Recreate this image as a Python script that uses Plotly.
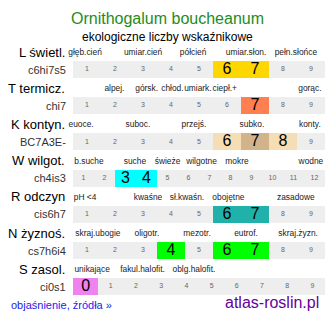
import plotly.graph_objects as go

# ---- data ----
title = "Ornithogalum boucheanum"
subtitle = "ekologiczne liczby wskaźnikowe"
row_names = ["L świetl.", "T termicz.", "K kontyn.", "W wilgot.", "R odczyn", "N żyznoś.", "S zasol."]
row_codes = ["c6hi7s5", "chi7", "BC7A3E-", "ch4is3", "cis6h7", "cs7h6i4", "ci0s1"]
scale_min = [1, 1, 1, 1, 1, 1, 0]
scale_max = [9, 9, 9, 12, 9, 9, 9]
highlight_vals = [[6, 7], [7], [6, 7, 8], [3, 4], [6, 7], [4, 6, 7], [0]]
highlight_cols = [["#FFD700", "#FFD700"], ["#FF7F50"], ["#F5DEB3", "#D2B48C", "#F5DEB3"],
                  ["#00FFFF", "#00FFFF"], ["#20B2AA", "#20B2AA"], ["#00FF00", "#00FF00", "#00FF00"],
                  ["#EE82EE"]]
desc_labels = [
    ["głęb.cień", "umiar.cień", "półcień", "umiar.słon.", "pełn.słońce"],
    ["alpej.", "górsk.", "chłod.", "umiark.", "ciepł.+", "gorąc."],
    ["euoce.", "suboc.", "przejś.", "subko.", "konty."],
    ["b.suche", "suche", "świeże", "wilgotne", "mokre", "wodne"],
    ["pH <4", "kwaśne", "sł.kwaśn.", "obojętne", "zasadowe"],
    ["skraj.ubogie", "oligotr.", "mezotr.", "eutrof.", "skraj.żyzn."],
    ["unikające", "fakul.halofit.", "oblg.halofit."],
]
desc_at = [
    [0.93, 3.0, 4.79, 6.68, 8.46],
    [1.98, 3.13, 4.05, 4.96, 5.92, 8.96],
    [0.79, 2.82, 4.82, 6.89, 8.96],
    [1.26, 3.45, 5.0, 6.62, 8.31, 11.83],
    [0.93, 3.18, 4.57, 6.05, 8.46],
    [1.39, 3.14, 4.93, 6.68, 8.54],
    [0.26, 2.26, 4.3],
]
link_text = "objaśnienie, źródła »"
site_text = "atlas-roslin.pl"

# ---- layout constants ----
W, H = 334, 322
X0, X1 = 73, 325
ROW0, ROWSTEP = 52, 36.2
BAR_OFF, BAR_H = 17.5, 17
FONT = "Liberation Sans, Arial, sans-serif"

fig = go.Figure()

def cell_geom(i):
    n = scale_max[i] - scale_min[i] + 1
    return (X1 - X0) / n

for i in range(len(row_names)):
    ly = ROW0 + ROWSTEP * i
    by = ly + BAR_OFF
    w = cell_geom(i)
    vals = list(range(scale_min[i], scale_max[i] + 1))
    fig.add_trace(go.Bar(orientation="h", y=[by], x=[X1 - X0], base=[X0], width=BAR_H,
                         marker=dict(color="#EEEEEE", line=dict(width=0)),
                         hoverinfo="skip", showlegend=False))
    hv = highlight_vals[i]
    fig.add_trace(go.Bar(orientation="h", y=[by] * len(hv), x=[w] * len(hv),
                         base=[X0 + (v - scale_min[i]) * w for v in hv], width=BAR_H,
                         marker=dict(color=highlight_cols[i], line=dict(width=0)),
                         hoverinfo="skip", showlegend=False))
    small = [v for v in vals if v not in hv]
    fig.add_trace(go.Scatter(x=[X0 + (v - scale_min[i] + 0.5) * w for v in small], y=[by] * len(small),
                             mode="text", text=[str(v) for v in small],
                             textfont=dict(family=FONT, size=7, color="#666666"),
                             hoverinfo="skip", showlegend=False))
    fig.add_trace(go.Scatter(x=[X0 + (v - scale_min[i] + 0.5) * w for v in hv], y=[by + 0.5] * len(hv),
                             mode="text", text=[str(v) for v in hv],
                             textfont=dict(family=FONT, size=16, color="#000000"),
                             hoverinfo="skip", showlegend=False))
    fig.add_trace(go.Scatter(x=[X0 + (p - scale_min[i] + 0.5) * w for p in desc_at[i]], y=[ly + 1] * len(desc_at[i]),
                             mode="text", text=desc_labels[i],
                             textfont=dict(family=FONT, size=8.4, color="#222222"),
                             hoverinfo="skip", showlegend=False))
    fig.add_annotation(x=67, y=ly, text=row_names[i], showarrow=False, xanchor="right", yanchor="middle",
                       font=dict(family=FONT, size=13, color="#000000"))
    fig.add_annotation(x=68, y=by, text=row_codes[i], showarrow=False, xanchor="right", yanchor="middle",
                       font=dict(family=FONT, size=11, color="#333333"))

fig.add_annotation(x=167, y=18, text=title, showarrow=False, xanchor="center", yanchor="middle",
                   font=dict(family=FONT, size=16, color="#1E8C1E"))
fig.add_annotation(x=167, y=37, text=subtitle, showarrow=False, xanchor="center", yanchor="middle",
                   font=dict(family=FONT, size=12, color="#000000"))
fig.add_annotation(x=9, y=305, text=link_text, showarrow=False, xanchor="left", yanchor="middle",
                   font=dict(family=FONT, size=11, color="#2222EE"))
fig.add_annotation(x=321, y=302, text=site_text, showarrow=False, xanchor="right", yanchor="middle",
                   font=dict(family=FONT, size=16, color="#660099"))

fig.update_layout(
    width=W, height=H, margin=dict(l=0, r=0, t=0, b=0),
    paper_bgcolor="white", plot_bgcolor="white",
    barmode="overlay", bargap=0,
    xaxis=dict(range=[0, W], visible=False, fixedrange=True),
    yaxis=dict(range=[H, 0], visible=False, fixedrange=True),
)
fig.write_html("out.html")
